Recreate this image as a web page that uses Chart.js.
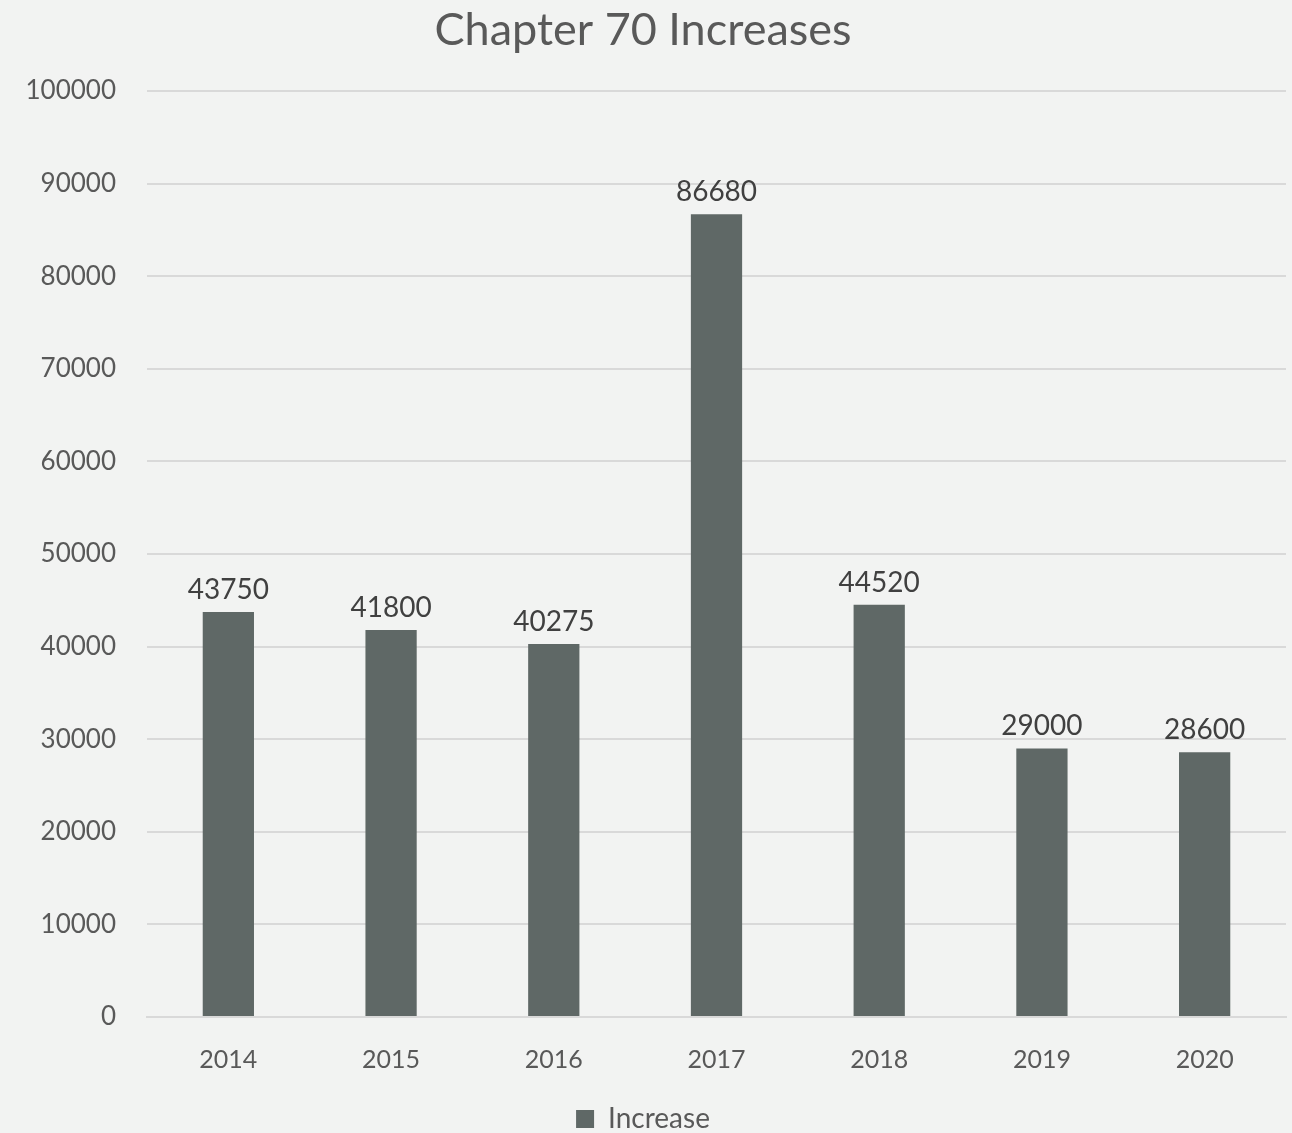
<!DOCTYPE html>
<html lang="en">
<head>
    <meta charset="UTF-8">
    <title>Chapter 70 Increases</title>
    <script src="https://cdn.jsdelivr.net/npm/chart.js"></script>
    <style>
        html, body { margin: 0; padding: 0; background: #f2f3f2; }
        #wrap { width: 1292px; height: 1133px; }
    </style>
</head>
<body>
    <div id="wrap"><canvas id="increaseChart" width="1292" height="1133"></canvas></div>

    <script>
        const years = ['2014', '2015', '2016', '2017', '2018', '2019', '2020'];
        const increases = [43750, 41800, 40275, 86680, 44520, 29000, 28600];
        const yTicks = [0, 10000, 20000, 30000, 40000, 50000, 60000, 70000, 80000, 90000, 100000];

        const textColor = '#595959';
        const barColor = '#5f6866';
        const fontFamily = 'Lato, "Open Sans", sans-serif';

        // write the value above each bar
        const valueLabels = {
            id: 'valueLabels',
            afterDatasetsDraw(chart) {
                const ctx = chart.ctx;
                const meta = chart.getDatasetMeta(0);
                ctx.save();
                ctx.font = '28px ' + fontFamily;
                ctx.fillStyle = '#404040';
                ctx.textAlign = 'center';
                ctx.textBaseline = 'bottom';
                meta.data.forEach((bar, i) => {
                    ctx.fillText(String(increases[i]), bar.x, bar.y - 8);
                });
                ctx.restore();
            }
        };

        const ctx = document.getElementById('increaseChart').getContext('2d');
        new Chart(ctx, {
            type: 'bar',
            data: {
                labels: years,
                datasets: [{
                    label: 'Increase',
                    data: increases,
                    backgroundColor: barColor,
                    categoryPercentage: 1,
                    barPercentage: 0.315
                }]
            },
            options: {
                responsive: false,
                animation: false,
                layout: { padding: { left: 0, right: 6, top: 3, bottom: -10 } },
                plugins: {
                    title: {
                        display: true,
                        text: 'Chapter 70 Increases',
                        color: textColor,
                        font: { family: fontFamily, size: 45, weight: 'normal' },
                        padding: { top: 0, bottom: 34 }
                    },
                    legend: {
                        position: 'bottom',
                        labels: {
                            color: textColor,
                            font: { family: fontFamily, size: 28 },
                            boxWidth: 18,
                            boxHeight: 18,
                            padding: 0
                        }
                    },
                    tooltip: { enabled: false }
                },
                scales: {
                    x: {
                        // extra room under the year labels pushes the legend lower
                        afterFit(scale) { scale.height += 10; },
                        grid: { display: false },
                        border: { color: '#d9d9d9', width: 2 },
                        ticks: {
                            color: textColor,
                            font: { family: fontFamily, size: 25 },
                            padding: 20
                        }
                    },
                    y: {
                        min: 0,
                        max: 100000,
                        afterFit(scale) { scale.width = 147; },
                        afterBuildTicks(scale) {
                            scale.ticks = yTicks.map(v => ({ value: v }));
                        },
                        border: { display: false },
                        grid: { color: '#d9d9d9', lineWidth: 2, drawTicks: false },
                        ticks: {
                            color: textColor,
                            font: { family: fontFamily, size: 26 },
                            padding: 31,
                            callback: v => String(v)
                        }
                    }
                }
            },
            plugins: [valueLabels]
        });
    </script>
</body>
</html>
